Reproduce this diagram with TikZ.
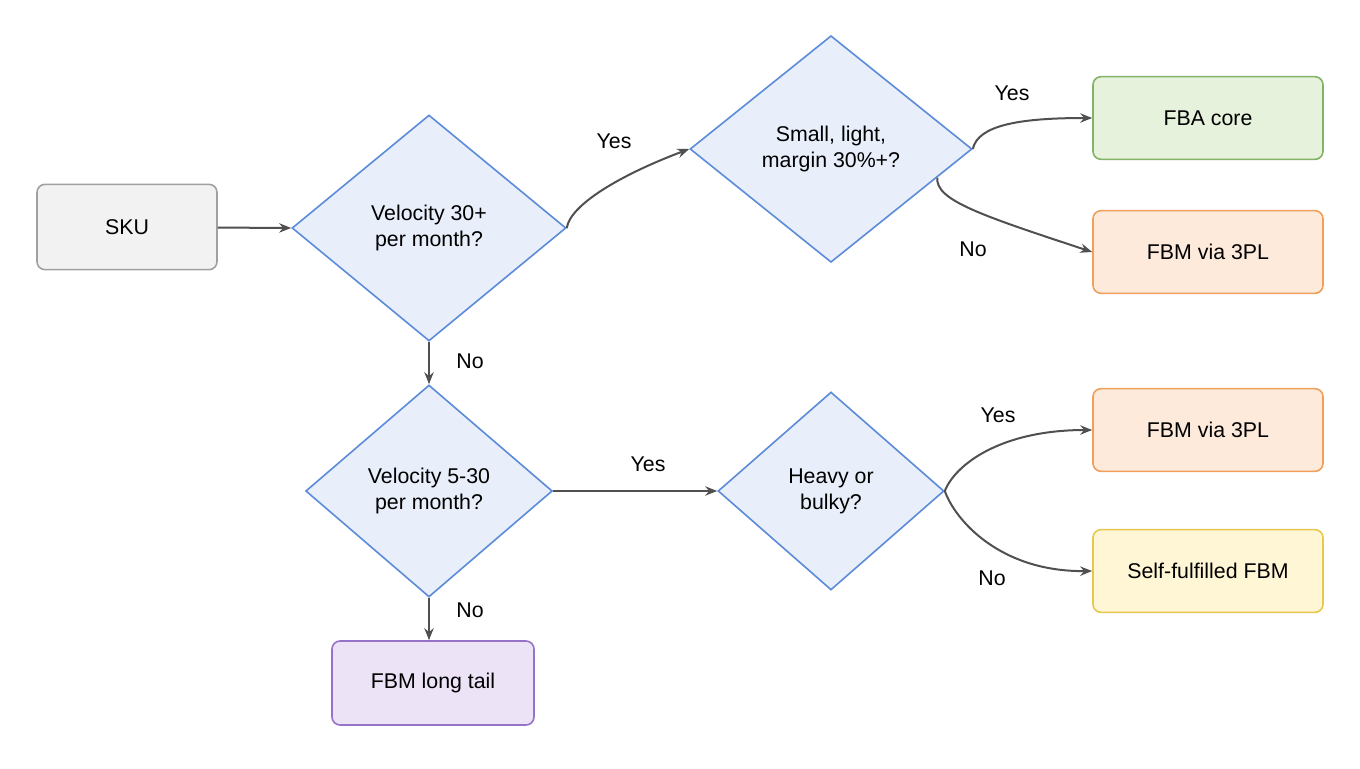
\documentclass[tikz,border=0pt]{standalone}
\usepackage{fontspec}
\setmainfont{Liberation Sans}
\usetikzlibrary{shapes.geometric,arrows.meta,calc}
\definecolor{dfill}{HTML}{E8EEFA}\definecolor{dline}{HTML}{5B8BD9}
\definecolor{gfill}{HTML}{F2F2F2}\definecolor{gline}{HTML}{A0A0A0}
\definecolor{grfill}{HTML}{E6F2DC}\definecolor{grline}{HTML}{82B366}
\definecolor{ofill}{HTML}{FDEADB}\definecolor{oline}{HTML}{F0A05A}
\definecolor{yfill}{HTML}{FFF6D5}\definecolor{yline}{HTML}{E6C84D}
\definecolor{pfill}{HTML}{ECE3F7}\definecolor{pline}{HTML}{9673C8}
\definecolor{arr}{HTML}{505050}
\begin{document}
\begin{tikzpicture}[x=0.75pt,y=-0.75pt,
  every node/.style={font=\fontsize{16}{19.5}\selectfont},
  box/.style={draw,rounded corners=6pt,line width=1.2pt,minimum width=172.5pt,minimum height=62pt,align=center},
  dia/.style={diamond,draw=dline,fill=dfill,line width=1.2pt,inner sep=0pt,align=center},
  e/.style={-{Stealth[length=9pt,width=7pt]},draw=arr,line width=1.5pt},
  lab/.style={font=\fontsize{16}{19}\selectfont}]
\useasboundingbox (0,0) rectangle (1360,768);
\node[box,draw=gline,fill=gfill,minimum width=135pt,minimum height=64pt] (sku) at (127,227) {SKU};
\node[dia,minimum width=205.5pt,minimum height=169.5pt] (d1) at (429,228) {Velocity 30+\\per month?};
\node[dia,minimum width=211.5pt,minimum height=170pt] (d2) at (831,149) {Small, light,\\margin 30\%+?};
\node[dia,minimum width=185pt,minimum height=159pt] (d3) at (429,491) {Velocity 5-30\\per month?};
\node[dia,minimum width=169.5pt,minimum height=148.5pt] (d4) at (831,491) {Heavy or\\bulky?};
\node[box,draw=grline,fill=grfill] (fba) at (1208,118) {FBA core};
\node[box,draw=oline,fill=ofill] (fbm1) at (1208,252) {FBM via 3PL};
\node[box,draw=oline,fill=ofill] (fbm2) at (1208,430) {FBM via 3PL};
\node[box,draw=yline,fill=yfill] (self) at (1208,571) {Self-fulfilled FBM};
\node[box,draw=pline,fill=pfill,minimum width=151.5pt,minimum height=63pt] (tail) at (433,683) {FBM long tail};
\draw[e] (sku) -- (d1.west);
\draw[e] (d1.east) .. controls (570,205) and (620,175) .. (d2.west);
\draw[e] (d2.east) .. controls (978,125) and (1020,118) .. (fba.west);
\draw[e] ($(d2.east)!0.25!(d2.south)$) .. controls (935,200) and (980,215) .. (fbm1.west);
\draw[e] (d1.south) -- (d3.north);
\draw[e] (d3.east) -- (d4.west);
\draw[e] (d4.east) .. controls (955,465) and (1000,430) .. (fbm2.west);
\draw[e] (d4.east) .. controls (955,520) and (1000,572) .. (self.west);
\draw[e] (d3.south) -- (d3.south |- tail.north);
\node[lab] (l1) at (614,141) {Yes};
\node[lab] (l2) at (1012,93) {Yes};
\node[lab] (l3) at (973,249) {No};
\node[lab] (l4) at (470,361) {No};
\node[lab] (l5) at (648,464) {Yes};
\node[lab] (l6) at (998,415) {Yes};
\node[lab] (l7) at (992,578) {No};
\node[lab] (l8) at (470,610) {No};
\end{tikzpicture}
\end{document}
